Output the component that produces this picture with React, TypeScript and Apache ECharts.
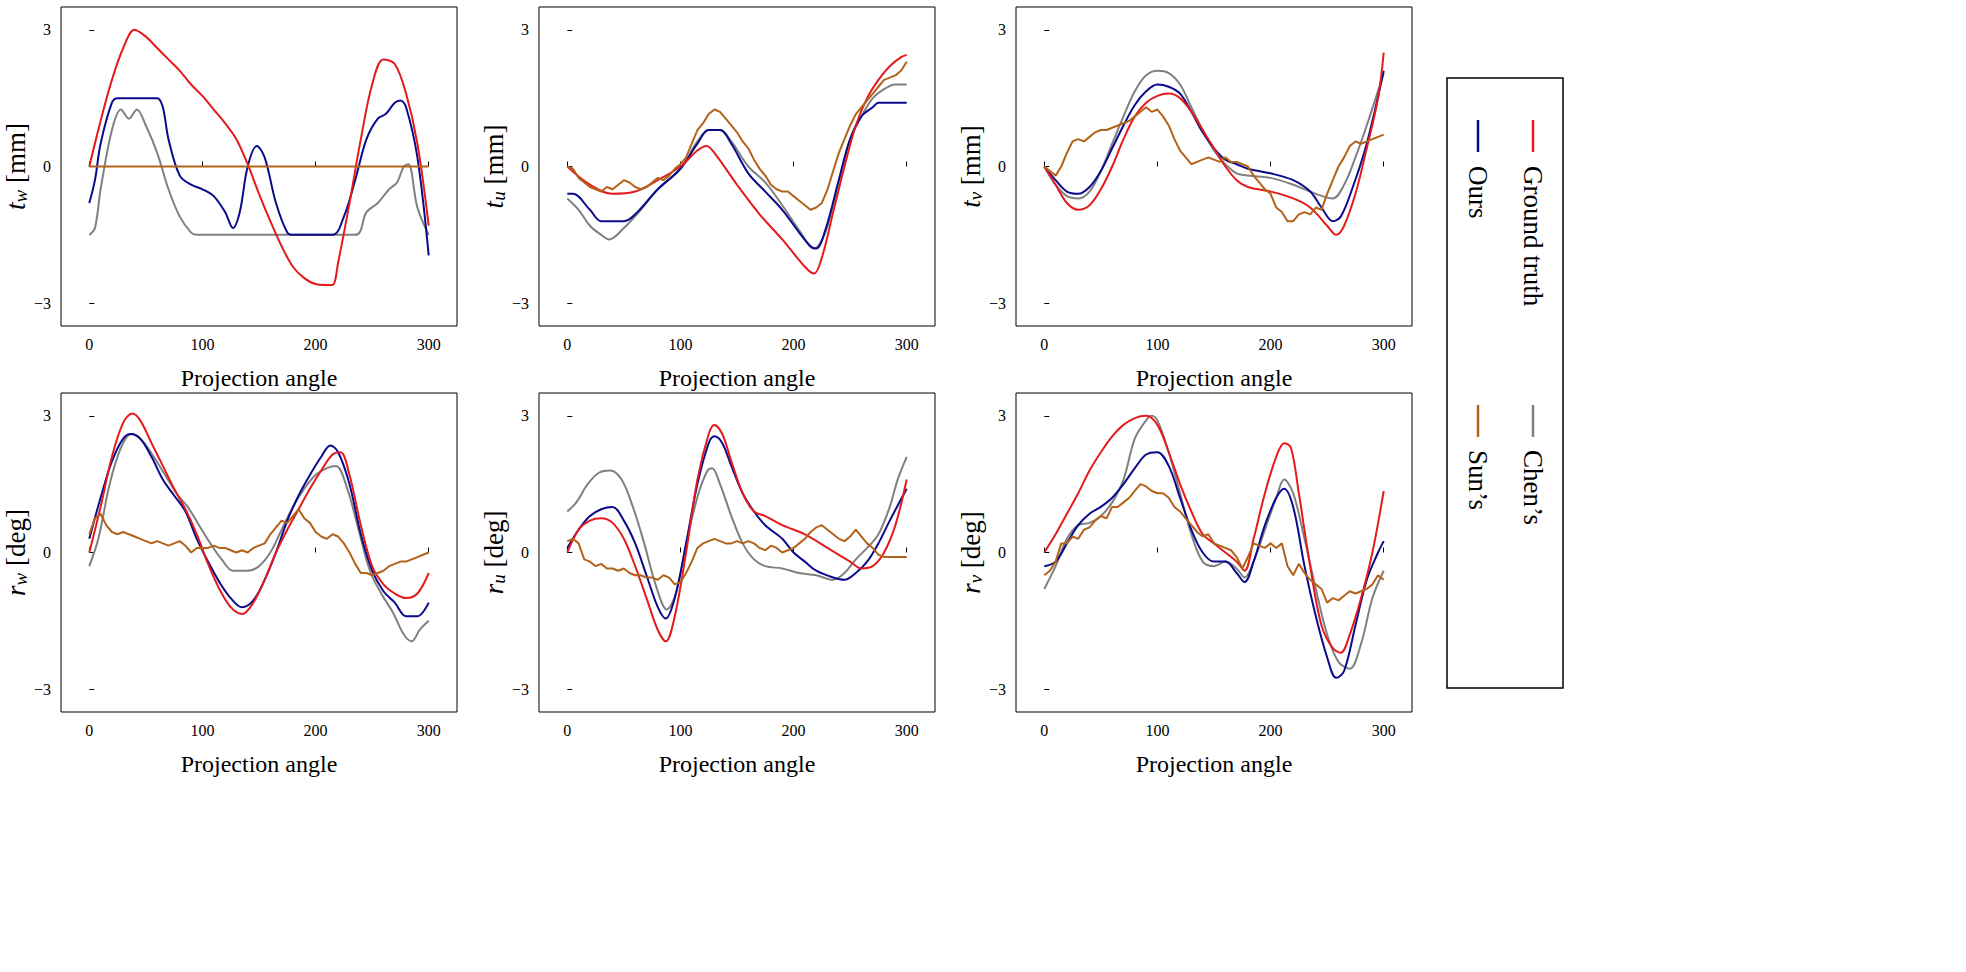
import { useEffect, useRef } from 'react'
import * as echarts from 'echarts'

type P = [number, number]

const xTicks = [0, 100, 200, 300]
const yTicks = [-3, 0, 3]

// panel 1: t_w
const twGT: P[] = [[0,0],[10,1.0],[20,1.9],[30,2.6],[40,3.0],[50,2.85],[60,2.6],[70,2.35],[80,2.1],[90,1.8],[100,1.55],[110,1.25],[120,0.95],[130,0.6],[140,0.05],[150,-0.6],[160,-1.2],[170,-1.75],[180,-2.2],[190,-2.45],[200,-2.58],[210,-2.6],[215,-2.6],[220,-2.1],[230,-0.8],[240,0.6],[250,1.8],[260,2.35],[270,2.25],[280,1.6],[290,0.5],[300,-1.3]]
const twOurs: P[] = [[0,-0.8],[5,-0.3],[10,0.5],[20,1.4],[25,1.5],[60,1.5],[65,1.3],[70,0.6],[80,-0.2],[90,-0.4],[100,-0.5],[110,-0.65],[120,-1.0],[127,-1.35],[133,-1.0],[140,0.0],[148,0.45],[155,0.2],[165,-0.8],[175,-1.45],[180,-1.5],[215,-1.5],[225,-1.1],[235,-0.3],[245,0.6],[255,1.05],[262,1.15],[270,1.4],[275,1.45],[280,1.3],[290,0.2],[300,-1.95]]
const twChen: P[] = [[0,-1.5],[5,-1.35],[10,-0.5],[20,0.8],[28,1.25],[35,1.05],[42,1.25],[50,0.9],[60,0.3],[70,-0.5],[80,-1.1],[90,-1.45],[95,-1.5],[235,-1.5],[245,-1.0],[255,-0.8],[265,-0.5],[272,-0.35],[278,0.0],[282,0.05],[290,-0.9],[300,-1.5]]
const twSun: P[] = [[0,0],[100,0],[200,0],[300,0]]

// panel 2: t_u
const tuGT: P[] = [[0,0],[20,-0.4],[40,-0.6],[60,-0.55],[80,-0.3],[100,0.0],[115,0.35],[123,0.45],[130,0.3],[150,-0.4],[170,-1.05],[190,-1.6],[210,-2.2],[218,-2.35],[225,-2.0],[235,-1.0],[245,0.0],[255,0.9],[265,1.5],[275,1.9],[285,2.2],[295,2.4],[300,2.45]]
const tuOurs: P[] = [[0,-0.6],[5,-0.6],[20,-0.95],[30,-1.2],[50,-1.2],[60,-1.05],[80,-0.5],[100,-0.05],[115,0.5],[125,0.8],[135,0.8],[145,0.5],[160,-0.15],[175,-0.55],[190,-0.95],[205,-1.45],[215,-1.75],[220,-1.8],[228,-1.4],[240,-0.3],[250,0.6],[260,1.1],[270,1.3],[275,1.4],[300,1.4]]
const tuChen: P[] = [[0,-0.7],[10,-0.95],[20,-1.3],[30,-1.5],[37,-1.6],[50,-1.35],[65,-0.95],[80,-0.5],[100,-0.05],[115,0.55],[125,0.8],[135,0.8],[145,0.55],[160,0.0],[175,-0.35],[190,-0.85],[205,-1.4],[218,-1.8],[228,-1.45],[240,-0.3],[250,0.6],[260,1.1],[270,1.5],[280,1.7],[290,1.8],[300,1.8]]
const tuSun: P[] = [[0,0],[5,-0.05],[10,-0.25],[15,-0.35],[20,-0.45],[25,-0.5],[30,-0.55],[35,-0.45],[40,-0.5],[45,-0.4],[50,-0.3],[55,-0.35],[60,-0.45],[65,-0.5],[70,-0.45],[75,-0.35],[80,-0.25],[85,-0.3],[90,-0.2],[95,-0.05],[100,0.05],[105,0.2],[110,0.5],[115,0.8],[120,0.95],[125,1.15],[130,1.25],[135,1.2],[140,1.05],[145,0.9],[150,0.75],[155,0.55],[160,0.4],[165,0.15],[170,-0.05],[175,-0.2],[180,-0.4],[185,-0.5],[190,-0.55],[195,-0.55],[200,-0.65],[205,-0.75],[210,-0.85],[215,-0.95],[220,-0.9],[225,-0.8],[230,-0.5],[235,-0.1],[240,0.3],[245,0.6],[250,0.9],[255,1.15],[260,1.3],[265,1.45],[270,1.6],[275,1.75],[280,1.9],[285,1.95],[290,2.0],[295,2.1],[300,2.3]]

// panel 3: t_v
const tvGT: P[] = [[0,0],[10,-0.4],[20,-0.8],[30,-0.95],[40,-0.85],[50,-0.5],[60,0.0],[70,0.6],[80,1.1],[90,1.4],[100,1.55],[110,1.6],[120,1.5],[130,1.2],[140,0.8],[150,0.4],[160,0.0],[170,-0.3],[180,-0.45],[200,-0.55],[220,-0.7],[235,-0.9],[250,-1.3],[258,-1.5],[265,-1.3],[275,-0.6],[285,0.4],[295,1.5],[300,2.5]]
const tvOurs: P[] = [[0,0],[10,-0.3],[20,-0.55],[30,-0.6],[40,-0.45],[50,-0.1],[60,0.4],[70,0.9],[80,1.35],[90,1.65],[100,1.8],[110,1.75],[120,1.6],[130,1.2],[140,0.75],[150,0.4],[160,0.15],[170,0.05],[180,-0.05],[200,-0.15],[220,-0.3],[235,-0.55],[245,-0.9],[255,-1.2],[262,-1.1],[272,-0.5],[285,0.5],[300,2.1]]
const tvChen: P[] = [[0,0],[10,-0.4],[20,-0.65],[30,-0.7],[40,-0.55],[50,-0.1],[60,0.5],[70,1.1],[80,1.65],[90,2.0],[100,2.1],[110,2.05],[120,1.8],[130,1.3],[140,0.8],[150,0.35],[160,0.05],[170,-0.15],[180,-0.2],[200,-0.25],[220,-0.4],[240,-0.6],[255,-0.7],[265,-0.4],[275,0.2],[285,0.9],[300,2.05]]
const tvSun: P[] = [[0,0],[5,-0.1],[10,-0.2],[15,0.0],[20,0.3],[25,0.55],[30,0.6],[35,0.55],[40,0.65],[45,0.75],[50,0.8],[55,0.8],[60,0.85],[65,0.9],[70,0.95],[75,1.0],[80,1.1],[85,1.2],[90,1.3],[95,1.2],[100,1.25],[105,1.1],[110,0.9],[115,0.6],[120,0.35],[125,0.2],[130,0.05],[135,0.1],[140,0.15],[145,0.2],[150,0.15],[155,0.1],[160,0.2],[165,0.1],[170,0.1],[175,0.05],[180,0.0],[185,-0.2],[190,-0.35],[195,-0.5],[200,-0.6],[205,-0.9],[210,-1.0],[215,-1.2],[220,-1.2],[225,-1.05],[230,-1.0],[235,-1.05],[240,-0.9],[245,-0.95],[250,-0.6],[255,-0.3],[260,0.0],[265,0.2],[270,0.45],[275,0.55],[280,0.5],[285,0.55],[290,0.6],[295,0.65],[300,0.7]]

// panel 4: r_w
const rwGT: P[] = [[0,0],[10,1.0],[20,2.1],[30,2.85],[38,3.05],[45,2.9],[55,2.4],[65,1.9],[75,1.4],[85,0.95],[95,0.4],[105,-0.25],[115,-0.8],[125,-1.2],[135,-1.35],[145,-1.1],[155,-0.6],[165,0.0],[175,0.5],[185,0.95],[195,1.4],[205,1.8],[215,2.15],[222,2.2],[230,1.7],[240,0.6],[250,-0.3],[260,-0.7],[270,-0.9],[280,-1.0],[290,-0.9],[300,-0.45]]
const rwOurs: P[] = [[0,0.3],[10,1.2],[20,2.0],[30,2.5],[37,2.6],[45,2.5],[55,2.1],[65,1.6],[75,1.25],[85,0.9],[95,0.3],[105,-0.2],[115,-0.65],[125,-1.0],[135,-1.2],[145,-1.05],[155,-0.6],[165,0.0],[175,0.7],[185,1.25],[195,1.7],[205,2.1],[213,2.35],[220,2.2],[230,1.5],[240,0.4],[250,-0.4],[260,-0.85],[270,-1.1],[280,-1.4],[290,-1.4],[300,-1.1]]
const rwChen: P[] = [[0,-0.3],[8,0.3],[18,1.5],[28,2.3],[37,2.6],[47,2.45],[57,2.1],[67,1.7],[77,1.3],[87,1.0],[97,0.6],[107,0.2],[117,-0.15],[127,-0.4],[140,-0.4],[150,-0.3],[160,0.0],[170,0.5],[180,1.0],[190,1.4],[200,1.7],[210,1.85],[218,1.9],[228,1.4],[238,0.5],[248,-0.4],[258,-0.9],[268,-1.3],[278,-1.8],[285,-1.95],[292,-1.7],[300,-1.5]]
const rwSun: P[] = [[0,0.4],[5,0.75],[10,0.85],[15,0.6],[20,0.45],[25,0.4],[30,0.45],[35,0.4],[40,0.35],[45,0.3],[50,0.25],[55,0.2],[60,0.25],[65,0.2],[70,0.15],[75,0.2],[80,0.25],[85,0.15],[90,0.0],[95,0.1],[100,0.1],[105,0.1],[110,0.15],[115,0.1],[120,0.1],[125,0.05],[130,0.0],[135,0.05],[140,0.0],[145,0.1],[150,0.15],[155,0.2],[160,0.4],[165,0.55],[170,0.7],[175,0.65],[180,0.8],[185,0.95],[190,0.75],[195,0.65],[200,0.45],[205,0.35],[210,0.3],[215,0.4],[220,0.35],[225,0.2],[230,0.0],[235,-0.25],[240,-0.45],[245,-0.45],[250,-0.5],[255,-0.45],[260,-0.4],[265,-0.3],[270,-0.25],[275,-0.2],[280,-0.2],[285,-0.15],[290,-0.1],[295,-0.05],[300,0.0]]

// panel 5: r_u
const ruGT: P[] = [[0,0],[10,0.5],[20,0.7],[30,0.75],[40,0.65],[50,0.3],[60,-0.3],[70,-1.0],[80,-1.7],[87,-1.95],[95,-1.4],[105,0.0],[115,1.6],[125,2.6],[130,2.8],[137,2.6],[145,2.0],[155,1.3],[165,0.9],[175,0.8],[190,0.6],[210,0.4],[230,0.1],[250,-0.2],[260,-0.35],[270,-0.3],[280,0.0],[290,0.6],[300,1.6]]
const ruOurs: P[] = [[0,0.1],[10,0.5],[20,0.8],[30,0.95],[40,1.0],[50,0.7],[60,0.2],[70,-0.5],[80,-1.2],[87,-1.45],[95,-1.0],[105,0.2],[115,1.5],[125,2.4],[130,2.55],[137,2.4],[145,1.9],[155,1.3],[165,0.9],[175,0.6],[190,0.3],[200,0.0],[210,-0.2],[220,-0.4],[235,-0.55],[245,-0.6],[255,-0.45],[265,-0.2],[275,0.2],[285,0.7],[300,1.4]]
const ruChen: P[] = [[0,0.9],[8,1.1],[18,1.5],[28,1.75],[38,1.8],[48,1.6],[58,1.0],[68,0.2],[78,-0.7],[88,-1.25],[96,-0.9],[106,0.3],[116,1.3],[124,1.8],[128,1.85],[135,1.5],[145,0.8],[155,0.2],[165,-0.15],[175,-0.3],[190,-0.35],[205,-0.45],[220,-0.5],[235,-0.6],[245,-0.45],[255,-0.15],[265,0.1],[275,0.4],[285,1.0],[292,1.6],[300,2.1]]
const ruSun: P[] = [[0,0.25],[5,0.3],[10,0.2],[15,-0.15],[20,-0.2],[25,-0.3],[30,-0.25],[35,-0.35],[40,-0.35],[45,-0.4],[50,-0.35],[55,-0.45],[60,-0.5],[65,-0.5],[70,-0.55],[75,-0.55],[80,-0.6],[85,-0.5],[90,-0.55],[95,-0.7],[100,-0.65],[105,-0.45],[110,-0.2],[115,0.1],[120,0.2],[125,0.25],[130,0.3],[135,0.25],[140,0.2],[145,0.2],[150,0.25],[155,0.2],[160,0.25],[165,0.2],[170,0.1],[175,0.05],[180,0.15],[185,0.1],[190,0.0],[195,0.05],[200,0.1],[205,0.2],[210,0.3],[215,0.45],[220,0.55],[225,0.6],[230,0.5],[235,0.4],[240,0.3],[245,0.25],[250,0.35],[255,0.5],[260,0.35],[265,0.2],[270,0.1],[275,-0.05],[280,-0.1],[285,-0.1],[290,-0.1],[295,-0.1],[300,-0.1]]

// panel 6: r_v
const rvGT: P[] = [[0,0],[10,0.4],[20,0.85],[30,1.3],[40,1.8],[50,2.2],[60,2.55],[70,2.8],[80,2.95],[90,3.0],[100,2.8],[110,2.2],[120,1.5],[130,0.9],[140,0.4],[150,0.2],[160,0.0],[170,-0.2],[177,-0.4],[185,0.3],[195,1.3],[205,2.1],[212,2.4],[218,2.3],[225,1.3],[235,-0.3],[245,-1.6],[255,-2.1],[262,-2.2],[270,-1.8],[280,-1.0],[290,0.0],[300,1.35]]
const rvOurs: P[] = [[0,-0.3],[10,-0.2],[20,0.2],[30,0.6],[40,0.85],[50,1.0],[60,1.2],[70,1.5],[80,1.85],[90,2.15],[100,2.2],[110,1.9],[120,1.2],[130,0.5],[140,0.0],[150,-0.2],[160,-0.2],[170,-0.45],[177,-0.65],[185,-0.2],[195,0.6],[205,1.2],[212,1.4],[220,1.0],[230,-0.3],[240,-1.4],[250,-2.3],[258,-2.75],[265,-2.6],[275,-1.6],[285,-0.6],[295,0.0],[300,0.25]]
const rvChen: P[] = [[0,-0.8],[10,-0.3],[20,0.3],[30,0.6],[40,0.65],[50,0.8],[60,1.1],[70,1.6],[80,2.5],[90,2.9],[95,3.0],[100,2.9],[110,2.2],[120,1.3],[130,0.4],[140,-0.2],[150,-0.3],[160,-0.2],[170,-0.35],[177,-0.55],[185,-0.2],[195,0.5],[205,1.2],[212,1.6],[220,1.3],[230,0.3],[240,-0.8],[250,-1.8],[260,-2.4],[270,-2.55],[280,-2.0],[290,-1.0],[300,-0.4]]
const rvSun: P[] = [[0,-0.5],[5,-0.4],[10,-0.2],[15,0.2],[20,0.2],[25,0.35],[30,0.3],[35,0.5],[40,0.55],[45,0.7],[50,0.8],[55,0.75],[60,1.0],[65,1.0],[70,1.1],[75,1.2],[80,1.35],[85,1.5],[90,1.45],[95,1.35],[100,1.3],[105,1.3],[110,1.2],[115,1.0],[120,0.9],[125,0.75],[130,0.6],[135,0.45],[140,0.35],[145,0.4],[150,0.2],[155,0.15],[160,0.1],[165,0.05],[170,-0.1],[175,-0.35],[180,-0.1],[185,0.2],[190,0.15],[195,0.1],[200,0.2],[205,0.1],[210,0.2],[215,-0.3],[220,-0.5],[225,-0.25],[230,-0.45],[235,-0.6],[240,-0.7],[245,-0.8],[250,-1.1],[255,-1.0],[260,-1.05],[265,-0.95],[270,-0.85],[275,-0.9],[280,-0.85],[285,-0.8],[290,-0.7],[295,-0.5],[300,-0.6]]

const panels = [
  { sym: 't', sub: 'w', unit: '[mm]', gt: twGT, ours: twOurs, chen: twChen, sun: twSun },
  { sym: 't', sub: 'u', unit: '[mm]', gt: tuGT, ours: tuOurs, chen: tuChen, sun: tuSun },
  { sym: 't', sub: 'v', unit: '[mm]', gt: tvGT, ours: tvOurs, chen: tvChen, sun: tvSun },
  { sym: 'r', sub: 'w', unit: '[deg]', gt: rwGT, ours: rwOurs, chen: rwChen, sun: rwSun },
  { sym: 'r', sub: 'u', unit: '[deg]', gt: ruGT, ours: ruOurs, chen: ruChen, sun: ruSun },
  { sym: 'r', sub: 'v', unit: '[deg]', gt: rvGT, ours: rvOurs, chen: rvChen, sun: rvSun },
]

const RED = '#e41a1c'
const NAVY = '#0a0a8c'
const GRAY = '#808080'
const BROWN = '#b3621a'
const FONT = '"Liberation Serif", "DejaVu Serif", serif'

const colLeft = [61, 539, 1016]
const rowTop = [7, 393]

export default function App() {
  const ref = useRef<HTMLDivElement | null>(null)

  useEffect(() => {
    document.body.style.margin = '0'
    const el = ref.current
    if (!el) return
    const chart = echarts.init(el, undefined, { renderer: 'svg' })

    const grid = panels.map((_, i) => ({
      left: colLeft[i % 3], top: rowTop[Math.floor(i / 3)], width: 396, height: 319,
      show: true, borderColor: '#000', borderWidth: 1, backgroundColor: 'transparent',
    }))
    const xAxis = panels.map((_, i) => ({
      type: 'value', gridIndex: i, min: -25, max: 325,
      name: 'Projection angle', nameLocation: 'middle', nameGap: 40,
      nameTextStyle: { fontFamily: FONT, fontSize: 24, color: '#000' },
      axisLine: { show: false }, splitLine: { show: false },
      axisTick: { inside: true, length: 5, customValues: xTicks, lineStyle: { color: '#000' } },
      axisLabel: {
        fontFamily: FONT, fontSize: 16, color: '#000', margin: 10, customValues: xTicks,
      },
    }))
    const yAxis = panels.map((p, i) => ({
      type: 'value', gridIndex: i, min: -3.5, max: 3.5,
      axisLine: { show: false }, splitLine: { show: false },
      axisTick: { inside: true, length: 5, customValues: yTicks, lineStyle: { color: '#000' } },
      axisLabel: {
        fontFamily: FONT, fontSize: 16, color: '#000', margin: 10, customValues: yTicks,
        formatter: (v: number) => (v < 0 ? '\u2212' + Math.abs(v) : String(v)),
      },
      name: `{i|${p.sym}}{s|${p.sub}}{u| ${p.unit}}`,
      nameLocation: 'middle', nameGap: 28, nameRotate: 90,
      nameTextStyle: {
        rich: {
          i: { fontFamily: FONT, fontStyle: 'italic', fontSize: 27, color: '#000' },
          s: { fontFamily: FONT, fontStyle: 'italic', fontSize: 19, color: '#000', verticalAlign: 'bottom', padding: [10, 0, 0, 0] },
          u: { fontFamily: FONT, fontSize: 27, color: '#000' },
        },
      },
    }))
    const mk = (data: P[], color: string, i: number, z: number, smooth: number) => ({
      type: 'line', xAxisIndex: i, yAxisIndex: i, data, showSymbol: false, symbol: 'none',
      smooth, lineStyle: { color, width: 2 }, z, silent: true,
    })
    const series: any[] = []
    panels.forEach((p, i) => {
      series.push(
        mk(p.gt, RED, i, 4, 0.35), mk(p.ours, NAVY, i, 3, 0.35),
        mk(p.chen, GRAY, i, 2, 0.35), mk(p.sun, BROWN, i, 5, 0),
      )
    })

    const legText = (x: number, y: number, text: string) => ({
      type: 'text', x, y, rotation: -Math.PI / 2,
      style: { text, fontFamily: FONT, fontSize: 27, fill: '#000', textAlign: 'left', textVerticalAlign: 'middle' },
    })
    const legLine = (x: number, y: number, color: string) => ({
      type: 'line', shape: { x1: x, y1: y, x2: x, y2: y + 32 }, style: { stroke: color, lineWidth: 2.5 },
    })

    chart.setOption({
      animation: false,
      grid, xAxis, yAxis, series,
      graphic: [
        { type: 'rect', shape: { x: 1447, y: 78, width: 116, height: 610 }, style: { fill: '#fff', stroke: '#000', lineWidth: 1.5 } },
        legLine(1533, 120, RED), legText(1533, 166, 'Ground truth'),
        legLine(1478, 120, NAVY), legText(1478, 166, 'Ours'),
        legLine(1533, 405, GRAY), legText(1533, 450, 'Chen\u2019s'),
        legLine(1478, 405, BROWN), legText(1478, 450, 'Sun\u2019s'),
      ],
    })
    return () => chart.dispose()
  }, [])

  return <div ref={ref} style={{ width: 1966, height: 972 }} />
}
